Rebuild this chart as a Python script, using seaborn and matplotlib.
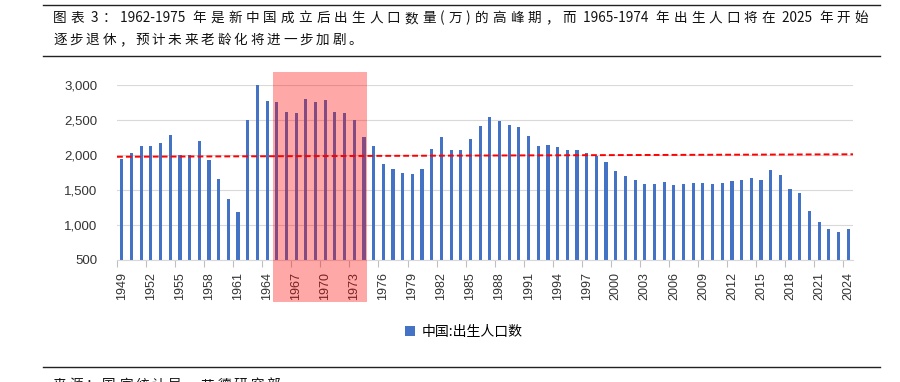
import re
import numpy as np
import pandas as pd
import matplotlib
matplotlib.use("Agg")
import matplotlib.pyplot as plt
import matplotlib.transforms as mtransforms
from matplotlib.patches import Rectangle, Patch
from matplotlib.lines import Line2D
import seaborn as sns

# data (万人)
years = list(range(1949, 2025))
births = [1946, 2032, 2122, 2122, 2170, 2284, 1998, 1998, 2198, 1927,
          1659, 1373, 1187, 2504, 3000, 2771, 2752, 2618, 2604, 2800,
          2757, 2785, 2614, 2604, 2499, 2260, 2132, 1869, 1802, 1750,
          1726, 1793, 2084, 2256, 2074, 2074, 2227, 2408, 2547, 2480,
          2432, 2404, 2275, 2127, 2141, 2113, 2070, 2074, 2032, 1989,
          1903, 1774, 1698, 1640, 1588, 1583, 1612, 1578, 1583, 1597,
          1607, 1588, 1593, 1631, 1636, 1678, 1645, 1783, 1721, 1521,
          1454, 1197, 1049, 944, 896, 944]
ref_level = [1975, 2010]          # red dashed reference line (left, right)
peak_years = [1965, 1974]         # highlighted band
y_ticks = [500, 1000, 1500, 2000, 2500, 3000]
series_name = "中国:出生人口数"
title_lines = ["图表 3：1962-1975 年是新中国成立后出生人口数量(万)的高峰期，而 1965-1974 年出生人口将在 2025 年开始",
               "逐步退休，预计未来老龄化将进一步加剧。"]
source_text = "来源：国家统计局，艾德研究部"

CJK = ["Noto Sans CJK SC", "DejaVu Sans"]
LAT = ["Liberation Sans", "DejaVu Sans"]
W, H = 900, 382

df = pd.DataFrame({"year": [str(y) for y in years], "births": births})

fig = plt.figure(figsize=(9, 3.82), dpi=100)
ax = fig.add_axes([117 / W, 1 - 260 / H, (853 - 117) / W, (260 - 85) / H])

sns.barplot(data=df, x="year", y="births", color="#4472C4", saturation=1,
            width=0.33, ax=ax, zorder=2)
ax.set_xlabel("")
ax.set_ylabel("")
ax.set_xlim(-0.5, len(years) - 0.5)
ax.set_ylim(y_ticks[0], y_ticks[-1])

# y axis
ax.set_yticks(y_ticks)
ax.set_yticklabels([f"{v:,}" for v in y_ticks], family=LAT, fontsize=9.5, color="#333333")
ax.tick_params(axis="y", length=0, pad=14)
ax.grid(axis="y", color="#D9D9D9", linewidth=0.8, zorder=0)
ax.set_axisbelow(True)

# x axis: label every 3rd year, tick marks at category boundaries
lab_idx = list(range(0, len(years), 3))
ax.set_xticks(lab_idx)
ax.set_xticklabels([str(years[i]) for i in lab_idx], rotation=90, family=LAT,
                   fontsize=9, color="#333333")
ax.set_xticks([i - 0.5 for i in lab_idx], minor=True)
ax.tick_params(axis="x", which="major", length=0, pad=9)
ax.tick_params(axis="x", which="minor", length=5, color="#BFBFBF", width=0.8)
for s in ["top", "right", "left"]:
    ax.spines[s].set_visible(False)
ax.spines["bottom"].set_color("#D9D9D9")
ax.spines["bottom"].set_linewidth(0.8)

# red dashed reference line
ax.plot([-0.5, len(years) - 0.5], ref_level, color="red", linestyle=(0, (3, 1.6)),
        linewidth=1.4, zorder=3, clip_on=False)

# pink highlight band (extends over the tick labels)
trans = mtransforms.blended_transform_factory(ax.transData, fig.transFigure)
i0 = years.index(peak_years[0]) - 0.4
i1 = years.index(peak_years[1]) + 0.3
ax.add_patch(Rectangle((i0, 1 - 302 / H), i1 - i0, (302 - 72) / H, transform=trans,
                       facecolor="red", alpha=0.34, edgecolor="none", zorder=4,
                       clip_on=False))

# legend
fig.legend(handles=[Patch(facecolor="#4472C4")], labels=[series_name], loc="center",
           bbox_to_anchor=(464 / W, 1 - 332 / H), frameon=False, handlelength=0.7,
           handleheight=0.7, handletextpad=0.5, prop={"family": CJK, "size": 10})

# horizontal rules
for yy in [5, 56, 367]:
    fig.add_artist(Line2D([43 / W, 880 / W], [1 - yy / H, 1 - yy / H],
                          color="#222222", linewidth=1.0))

renderer = fig.canvas.get_renderer()


def draw_line(text, x0, y, size, gap=None, x1=None, va="center"):
    tokens = re.findall(r"[\x00-\x7f]+|.", text)
    arts, widths = [], []
    for tk in tokens:
        t = fig.text(0, 1 - y / H, tk, family=CJK, fontsize=size, color="#111111",
                     va=va, ha="left")
        arts.append(t)
        widths.append(t.get_window_extent(renderer).width)
    if x1 is not None:
        gap = (x1 - x0 - sum(widths)) / (len(tokens) - 1)
    x = x0
    for t, w in zip(arts, widths):
        t.set_x(x / W)
        x += w + gap


draw_line(title_lines[0], 53, 18, 9.8, x1=868)
draw_line(title_lines[1], 53, 40, 9.8, gap=2.8)
draw_line(source_text, 53, 378, 9.8, gap=2.8, va="top")

fig.savefig("out.png", dpi=100)
